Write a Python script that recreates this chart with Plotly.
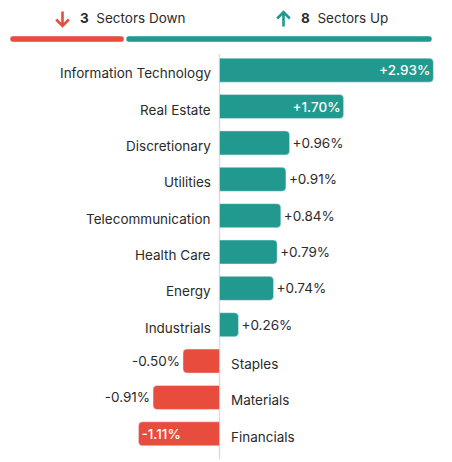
import plotly.graph_objects as go

sectors = ["Information Technology", "Real Estate", "Discretionary", "Utilities",
           "Telecommunication", "Health Care", "Energy", "Industrials",
           "Staples", "Materials", "Financials"]
changes = [2.93, 1.70, 0.96, 0.91, 0.84, 0.79, 0.74, 0.26, -0.50, -0.91, -1.11]
value_labels = ["+2.93%", "+1.70%", "+0.96%", "+0.91%", "+0.84%", "+0.79%",
                "+0.74%", "+0.26%", "-0.50%", "-0.91%", "-1.11%"]
inside_flags = [True, True, False, False, False, False, False, False, False, False, True]

UP = "#21998f"
DOWN = "#e84c3d"
TXT = "#2b2b2b"
FONT = "Inter"
FS = 13.5
W, H = 452, 462

n_down = sum(1 for v in changes if v < 0)
n_up = sum(1 for v in changes if v > 0)

fig = go.Figure()

fig.add_trace(go.Bar(
    y=sectors, x=changes, orientation="h",
    marker=dict(color=[UP if v > 0 else DOWN for v in changes], cornerradius=4),
    text=value_labels,
    textposition=["inside" if f else "outside" for f in inside_flags],
    insidetextanchor="end",
    insidetextfont=dict(color="white", size=FS, family=FONT, weight=500),
    outsidetextfont=dict(color=TXT, size=FS, family=FONT),
    textangle=0, cliponaxis=False,
    hoverinfo="skip", xaxis="x", yaxis="y",
))

# header split bar
gap = 0.026
fig.add_trace(go.Bar(
    y=["s"], x=[-(n_down - gap)], base=[n_down - gap], orientation="h",
    marker=dict(color=DOWN, cornerradius=3), width=[1.0],
    xaxis="x2", yaxis="y2", hoverinfo="skip",
))
fig.add_trace(go.Bar(
    y=["s"], x=[n_up - gap], base=[n_down + gap], orientation="h",
    marker=dict(color=UP, cornerradius=3), width=[1.0],
    xaxis="x2", yaxis="y2", hoverinfo="skip",
))

annotations = []
for s, v in zip(sectors, changes):
    annotations.append(dict(
        x=0, y=s, xref="x", yref="y", text=s, showarrow=False,
        xanchor="right" if v > 0 else "left",
        xshift=-7 if v > 0 else 9, yshift=-3,
        font=dict(size=FS, color=TXT, family=FONT),
    ))

annotations += [
    dict(xref="paper", yref="paper", x=78 / W, y=1 - 18 / H,
         text=f"<b>{n_down}</b>  Sectors Down", showarrow=False,
         xanchor="left", yanchor="middle", font=dict(size=FS, color=TXT, family=FONT)),
    dict(xref="paper", yref="paper", x=299 / W, y=1 - 18 / H,
         text=f"<b>{n_up}</b>  Sectors Up", showarrow=False,
         xanchor="left", yanchor="middle", font=dict(size=FS, color=TXT, family=FONT)),
]


def P(x, y):
    return f"{x / W:.5f},{1 - y / H:.5f}"


def arrow(cx, down):
    if down:
        stem = f"M{P(cx, 11.5)} L{P(cx, 25.5)}"
        head = f"M{P(cx - 6.3, 19.5)} L{P(cx, 25.8)} L{P(cx + 6.3, 19.5)}"
    else:
        stem = f"M{P(cx, 12.5)} L{P(cx, 26.5)}"
        head = f"M{P(cx - 6.3, 18.5)} L{P(cx, 12.2)} L{P(cx + 6.3, 18.5)}"
    return stem + " " + head


shapes = [
    dict(type="line", xref="x", yref="paper", x0=0, x1=0,
         y0=3 / H, y1=(H - 54) / H, line=dict(color="#dddddd", width=1.5),
         layer="below"),
    dict(type="path", xref="paper", yref="paper", path=arrow(62.5, True),
         line=dict(color=DOWN, width=2.6)),
    dict(type="path", xref="paper", yref="paper", path=arrow(283.5, False),
         line=dict(color=UP, width=2.6)),
]

px_per = 73.0
zero_px = 219.5
total = n_down + n_up
hdr_per = (432 - 10) / total

fig.update_layout(
    width=W, height=H, margin=dict(l=0, r=0, t=0, b=0),
    paper_bgcolor="white", plot_bgcolor="white",
    showlegend=False, barmode="overlay", bargap=0.34,
    font=dict(family=FONT, color=TXT, size=FS),
    xaxis=dict(domain=[0, 1], range=[-zero_px / px_per, (W - zero_px) / px_per],
               visible=False, fixedrange=True),
    yaxis=dict(domain=[10 / H, (H - 52) / H], categoryorder="array",
               categoryarray=sectors, autorange="reversed",
               visible=False, fixedrange=True),
    xaxis2=dict(domain=[0, 1], anchor="y2",
                range=[-10 / hdr_per, total + (W - 432) / hdr_per],
                visible=False, fixedrange=True),
    yaxis2=dict(domain=[(H - 42) / H, (H - 36) / H], anchor="x2",
                range=[-0.5, 0.5], visible=False, fixedrange=True),
    annotations=annotations,
    shapes=shapes,
)

fig.write_html("out.html")
